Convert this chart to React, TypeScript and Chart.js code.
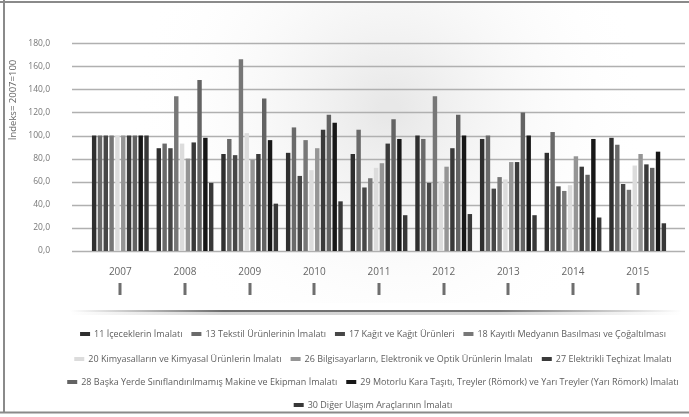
import React, { useEffect, useRef } from "react";
import { Chart, registerables } from "chart.js";

Chart.register(...registerables);

const years = ["2007", "2008", "2009", "2010", "2011", "2012", "2013", "2014", "2015"];

const seriesNames = [
  "11 İçeceklerin İmalatı",
  "13 Tekstil Ürünlerinin İmalatı",
  "17 Kağıt ve Kağıt Ürünleri",
  "18 Kayıtlı Medyanın Basılması ve Çoğaltılması",
  "20 Kimyasalların ve Kimyasal Ürünlerin İmalatı",
  "26 Bilgisayarların, Elektronik ve Optik Ürünlerin İmalatı",
  "27 Elektrikli Teçhizat İmalatı",
  "28 Başka Yerde Sınıflandırılmamış Makine ve Ekipman İmalatı",
  "29 Motorlu Kara Taşıtı, Treyler (Römork) ve Yarı Treyler (Yarı Römork) İmalatı",
  "30 Diğer Ulaşım Araçlarının İmalatı",
];

const s11 = [100, 89, 84, 85, 84, 100, 97, 85, 98];
const s13 = [100, 93, 97, 107, 105, 97, 100, 103, 92];
const s17 = [100, 89, 83, 65, 55, 59, 54, 56, 58];
const s18 = [100, 134, 166, 96, 63, 134, 64, 52, 53];
const s20 = [100, 93, 102, 70, 72, 60, 62, 57, 74];
const s26 = [100, 80, 79, 89, 76, 73, 77, 82, 84];
const s27 = [100, 94, 84, 105, 93, 89, 77, 73, 75];
const s28 = [100, 148, 132, 118, 114, 118, 120, 66, 72];
const s29 = [100, 98, 96, 111, 97, 100, 100, 97, 86];
const s30 = [100, 59, 41, 43, 31, 32, 31, 29, 24];

const seriesValues = [s11, s13, s17, s18, s20, s26, s27, s28, s29, s30];

const seriesColors = [
  "#2f2f2f",
  "#6a6a6a",
  "#474747",
  "#777777",
  "#dcdcdc",
  "#959595",
  "#3a3a3a",
  "#636363",
  "#171717",
  "#383838",
];

const legendRows = [[0, 1, 2, 3], [4, 5, 6], [7, 8], [9]];
const legendRowY = [334, 359, 382, 405];

const yTitle = "İndeks= 2007=100";
const FONT = '"Open Sans", sans-serif';

const decoPlugin = {
  id: "deco",
  beforeDraw(chart: any) {
    const ctx = chart.ctx;
    const w = chart.width;
    const h = chart.height;
    ctx.save();
    ctx.fillStyle = "#ffffff";
    ctx.fillRect(0, 0, w, h);
    const g = ctx.createRadialGradient(390, 110, 10, 390, 110, 260);
    g.addColorStop(0, "rgba(232,232,232,1)");
    g.addColorStop(1, "rgba(255,255,255,0)");
    ctx.fillStyle = g;
    ctx.fillRect(6, 3, w - 6, 300);
    // frame
    ctx.strokeStyle = "#8a8a8a";
    ctx.lineWidth = 2;
    ctx.beginPath();
    ctx.moveTo(0, 2);
    ctx.lineTo(w, 2);
    ctx.moveTo(4, 0);
    ctx.lineTo(4, 413);
    ctx.moveTo(0, 412.5);
    ctx.lineTo(w, 412.5);
    ctx.stroke();
    ctx.restore();
  },
  beforeDatasetsDraw(chart: any) {
    const ctx = chart.ctx;
    const ys = chart.scales.y;
    ctx.save();
    ys.ticks.forEach((t: any) => {
      const py = Math.round(ys.getPixelForValue(t.value)) + 0.5;
      ctx.strokeStyle = "#b0b0b0";
      ctx.lineWidth = 1.5;
      ctx.beginPath();
      ctx.moveTo(72, py);
      ctx.lineTo(685, py);
      ctx.stroke();
    });
    ctx.restore();
  },
  afterDraw(chart: any) {
    const ctx = chart.ctx;
    const xs = chart.scales.x;
    ctx.save();
    // small marks under year labels
    ctx.fillStyle = "#6e6e6e";
    years.forEach((_, i) => {
      const px = xs.getPixelForValue(i);
      ctx.fillRect(Math.round(px) - 1.5, 283, 3, 12);
    });
    // separator shadow
    const sg = ctx.createLinearGradient(70, 0, 682, 0);
    sg.addColorStop(0, "rgba(60,60,60,0)");
    sg.addColorStop(0.25, "rgba(60,60,60,0.75)");
    sg.addColorStop(0.7, "rgba(60,60,60,0.7)");
    sg.addColorStop(1, "rgba(60,60,60,0)");
    ctx.fillStyle = sg;
    ctx.fillRect(70, 310, 612, 2);
    ctx.globalAlpha = 0.3;
    ctx.fillRect(70, 312, 612, 3);
    ctx.globalAlpha = 1;
    // y title
    ctx.fillStyle = "#666666";
    ctx.font = `9.5px ${FONT}`;
    ctx.textAlign = "center";
    ctx.textBaseline = "middle";
    ctx.translate(13, 100);
    ctx.rotate(-Math.PI / 2);
    ctx.fillText(yTitle, 0, 0);
    ctx.setTransform(1, 0, 0, 1, 0, 0);
    // legend
    ctx.font = `9px ${FONT}`;
    ctx.textAlign = "left";
    ctx.textBaseline = "middle";
    const boxW = 10;
    const boxGap = 4;
    const itemGap = 9;
    legendRows.forEach((row, r) => {
      const widths = row.map((i) => boxW + boxGap + ctx.measureText(seriesNames[i]).width);
      const total = widths.reduce((a, b) => a + b, 0) + itemGap * (row.length - 1);
      let x = 373 - total / 2;
      const y = legendRowY[r];
      row.forEach((i, k) => {
        ctx.fillStyle = seriesColors[i];
        ctx.fillRect(x, y - 2, boxW, 4);
        ctx.fillStyle = "#5e5e5e";
        ctx.fillText(seriesNames[i], x + boxW + boxGap, y);
        x += widths[k] + itemGap;
      });
    });
    ctx.restore();
  },
};

export default function App() {
  const ref = useRef<HTMLCanvasElement | null>(null);
  useEffect(() => {
    document.body.style.margin = "0";
    if (!ref.current) return;
    const chart = new Chart(ref.current, {
      type: "bar",
      data: {
        labels: years,
        datasets: seriesValues.map((vals, i) => ({
          label: seriesNames[i],
          data: vals,
          backgroundColor: seriesColors[i],
          borderWidth: 0,
          categoryPercentage: 0.9,
          barPercentage: 0.76,
        })),
      },
      options: {
        animation: false,
        responsive: false,
        maintainAspectRatio: false,
        layout: { padding: { left: 28, right: 19, top: 36, bottom: 136 } },
        plugins: {
          legend: { display: false },
          tooltip: { enabled: false },
        },
        scales: {
          x: {
            grid: { display: false, drawTicks: false },
            border: { display: false },
            ticks: { color: "#666666", font: { family: FONT, size: 10 }, padding: 15 },
            afterFit: (s: any) => {
              s.height = 30;
            },
          },
          y: {
            min: 0,
            max: 180,
            grid: { display: false, drawTicks: false },
            border: { display: false },
            ticks: {
              stepSize: 20,
              color: "#777777",
              font: { family: FONT, size: 8.5 },
              padding: 38,
              callback: (v: any) => Number(v).toFixed(1).replace(".", ","),
            },
            afterFit: (s: any) => {
              s.width = 60;
            },
          },
        },
      },
      plugins: [decoPlugin],
    });
    return () => chart.destroy();
  }, []);
  return (
    <div style={{ width: 689, height: 417 }}>
      <canvas ref={ref} width={689} height={417} style={{ display: "block" }} />
    </div>
  );
}
